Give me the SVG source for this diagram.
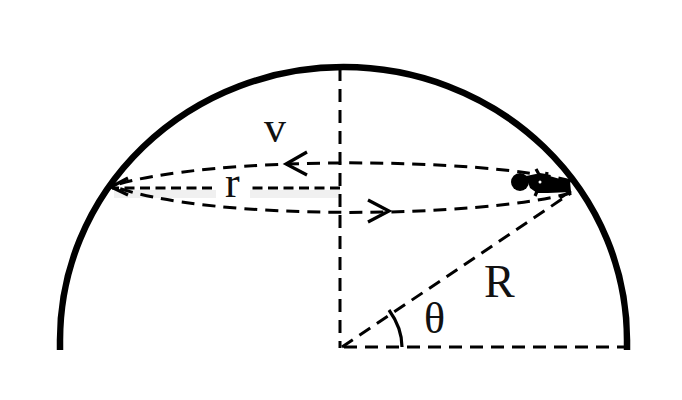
<svg xmlns="http://www.w3.org/2000/svg" width="682" height="400" viewBox="0 0 682 400">
<style>
.d{fill:none;stroke:#000;stroke-width:3;stroke-dasharray:13 8}
.r{stroke-dasharray:10 5.500}
.s{fill:none;stroke:#000;stroke-width:3.200}
.t{font-family:"Liberation Serif",serif;fill:#111}
</style>
<rect width="682" height="400" fill="#fff"/>
<g id="dome"><path d="M60 350V340A283.500 273 0 0 1 627 340V350" fill="none" stroke="#000" stroke-width="6.500"/></g>
<g id="connectors">
<rect x="114" y="190" width="102" height="8" fill="#f0f0f0"/>
<rect x="250" y="190" width="90" height="8" fill="#f0f0f0"/>
<path class="d" d="M340 68V348"/>
<path class="d" d="M344 347H627"/>
<path class="d" d="M342 347L571 193"/>
<path class="d r" d="M340 188H250M212 188H112"/>
<path class="d" d="M571 193C480 218 210 222 112 186"/>
<path class="d" d="M571 181C480 157 210 155 112 186"/>
<path class="s" d="M307 152L286 164L307 175"/>
<path class="s" d="M368 200L389 211L368 222"/>
<path class="s" d="M128 178L111 187L128 195"/>
<path class="s" d="M389 310Q402 328 402 347" stroke-width="2.500"/>
</g>
<g id="figure">
<circle cx="520" cy="182" r="9"/>
<path d="M526 176L536 174L546 175L560 179L570 181L571 192L548 193L537 193L530 188Z"/>
<path class="s" d="M536 169L542 180L535 196M547 172L544 192M560 198L571 191" stroke-width="3"/>
<circle cx="540" cy="182" r="1.500" fill="#fff"/>
</g>
<g id="labels">
<text class="t" x="264" y="142" font-size="44">v</text>
<text class="t" x="225" y="197" font-size="44">r</text>
<text class="t" x="484" y="297" font-size="46">R</text>
<text class="t" x="424" y="333" font-size="44">θ</text>
</g>
</svg>
